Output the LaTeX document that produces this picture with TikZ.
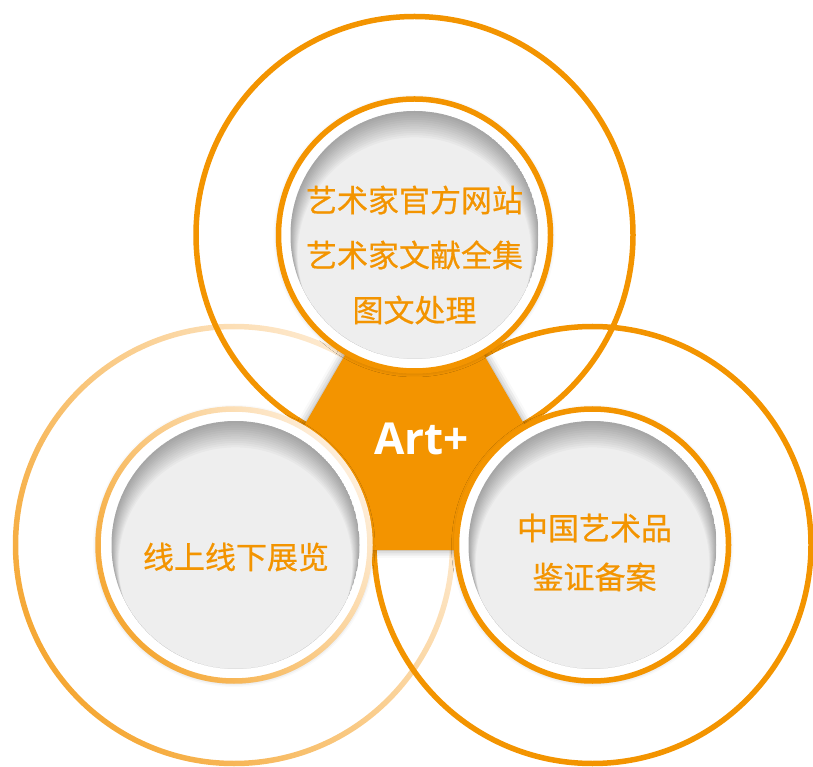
\documentclass[tikz,border=0pt]{standalone}
\usepackage{fontspec}
\newfontfamily\cjk{Noto Sans CJK SC}[FakeBold=0.6]
\newfontfamily\artfont{Open Sans}
\usetikzlibrary{shadows.blur}

\definecolor{artorange}{HTML}{F39400}
\definecolor{palebottom}{HTML}{F5A733}
\definecolor{paletop}{HTML}{FEEEDA}
\definecolor{diskgray}{HTML}{EEEEEE}

\tikzset{
  outerring/.style={draw=artorange, line width=5.5pt},
  ringnode/.style={circle, fill=white, inner sep=0pt, minimum size=272pt,
    blur shadow={shadow xshift=0pt, shadow yshift=-1pt, shadow blur radius=5pt, shadow opacity=30}},
  disknode/.style={circle, fill=diskgray, inner sep=0pt, minimum size=248pt},
  cjktext/.style={text=artorange, align=center, font=\cjk\fontsize{31}{55}\selectfont},
  paleshade/.style={even odd rule, bottom color=palebottom, top color=paletop, shading angle=-55}
}

\begin{document}
\begin{tikzpicture}[x=1pt, y=1pt]

\useasboundingbox (0,0) rectangle (813,766);

\coordinate (ctop) at (414.5,531);
\coordinate (cleft) at (234,221);
\coordinate (cright) at (592.5,221);

% outer circles
\shade[paleshade] (cleft) circle[radius=221.25] circle[radius=215.75];
\draw[outerring] (ctop) circle[radius=218.5];
\draw[outerring] (cright) circle[radius=218.5];

% centre piece
\fill[artorange, blur shadow={shadow xshift=0pt, shadow yshift=0pt, shadow blur radius=8pt, shadow opacity=40}]
  (ctop) -- (232,216) -- (597,216) -- cycle;

% inner rings
\node[ringnode, draw=artorange, line width=5.5pt] (topring) at (ctop) {};
\node[ringnode] (leftring) at (cleft) {};
\node[ringnode, draw=artorange, line width=5.5pt] (rightring) at (cright) {};
\shade[paleshade] (leftring.center) circle[radius=138.75] circle[radius=133.25];

% grey disks
\node[disknode] (topdisk) at (ctop) {};
\node[disknode] (leftdisk) at ([xshift=1.5pt]cleft) {};
\node[disknode] (rightdisk) at (cright) {};

\foreach \d in {topdisk,leftdisk,rightdisk}{
  \begin{scope}
    \clip (\d.center) circle[radius=124];
    \foreach \i in {1,...,12}
      \fill[black, opacity=0.028, even odd rule]
        (\d.center) circle[radius=124] ++(0,-1.6*\i) circle[radius=124-0.6*\i];
  \end{scope}
}

% texts
\node[cjktext] (toptext) at (414.5,511) {艺术家官方网站\\艺术家文献全集\\图文处理};
\node[cjktext] (lefttext) at (236,209) {线上线下展览};
\node[cjktext, font=\cjk\fontsize{31}{49}\selectfont] (righttext) at (594.5,213.5) {中国艺术品\\鉴证备案};
\node[text=white, font=\artfont\bfseries\fontsize{44}{44}\selectfont] (arttext) at (421.5,327) {Art+};

\end{tikzpicture}
\end{document}
